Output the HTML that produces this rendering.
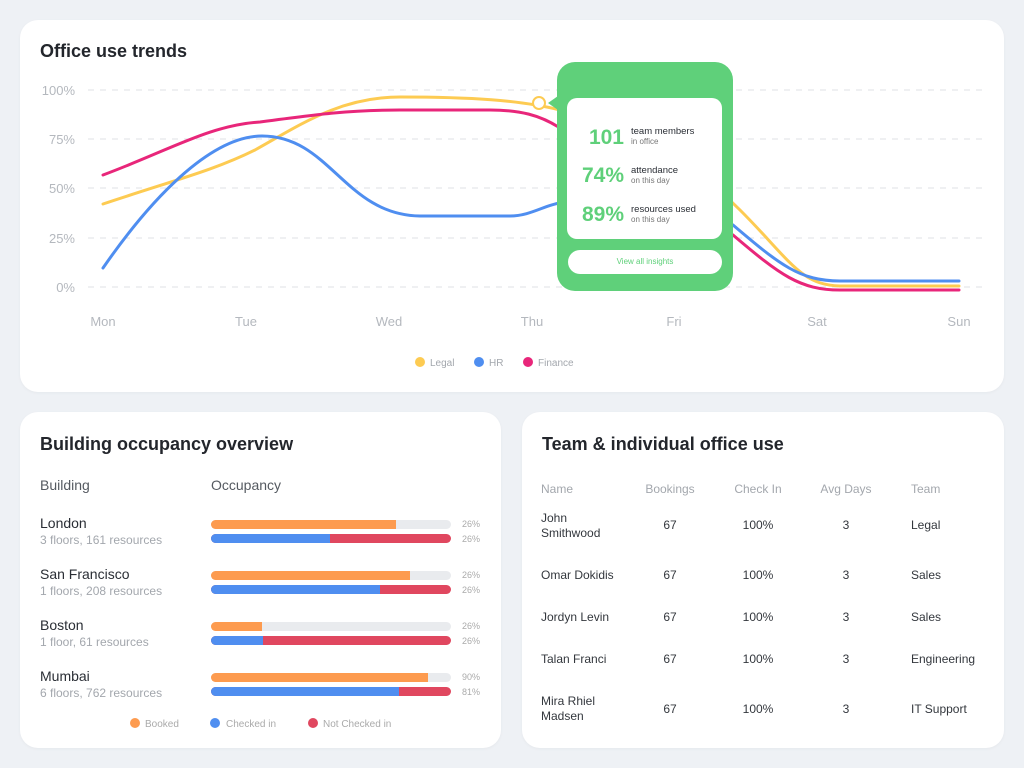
<!DOCTYPE html>
<html><head><meta charset="utf-8"><style>
body{margin:0;width:1024px;height:768px;background:#eef1f5;font-family:"Liberation Sans",sans-serif;position:relative;overflow:hidden;color:#2a2e35}
.card{position:absolute;background:#fff;border-radius:18px;box-shadow:0 1px 3px rgba(0,0,0,.04)}
.abs{position:absolute}
h2{position:absolute;margin:0;font-size:18px;font-weight:bold;color:#23262c}
.sub{color:#a3a7ad;font-size:12px}
.bar{position:absolute;height:9px;border-radius:5px;background:#e9ebee;overflow:hidden;left:211px;width:240px}
.bar div{position:absolute;top:0;height:9px}
.pct{position:absolute;left:462px;font-size:9px;color:#aaa}
.th{position:absolute;top:482px;font-size:12px;color:#a3a7ad}
.td{position:absolute;font-size:12px;color:#33373d;text-align:center}
</style></head><body>
<div class="card" style="left:20px;top:20px;width:984px;height:372px"></div>
<div class="card" style="left:20px;top:412px;width:481px;height:336px"></div>
<div class="card" style="left:522px;top:412px;width:482px;height:336px"></div>
<h2 style="left:40px;top:41px">Office use trends</h2>
<svg class="abs" style="left:0;top:0" width="1024" height="400">
<g stroke="#dfe2e6" stroke-dasharray="6 6" stroke-width="1">
<line x1="88" y1="90" x2="985" y2="90"/><line x1="88" y1="139" x2="985" y2="139"/><line x1="88" y1="188" x2="985" y2="188"/><line x1="88" y1="238" x2="985" y2="238"/><line x1="88" y1="287" x2="985" y2="287"/></g>
<g font-size="13" fill="#b4b8be" text-anchor="end"><text x="75" y="95">100%</text><text x="75" y="144">75%</text><text x="75" y="193">50%</text><text x="75" y="243">25%</text><text x="75" y="292">0%</text></g>
<g font-size="13" fill="#b4b8be" text-anchor="middle"><text x="103" y="326">Mon</text><text x="246" y="326">Tue</text><text x="389" y="326">Wed</text><text x="532" y="326">Thu</text><text x="674" y="326">Fri</text><text x="817" y="326">Sat</text><text x="959" y="326">Sun</text></g>
<g fill="none" stroke-width="3" stroke-linecap="round">
<path stroke="#fdcb52" d="M103 204 C175 180,215 170,255 150 C300 125,340 97,400 97 C470 97,520 100,560 110 C640 130,700 170,740 210 C790 260,800 285,840 286 L959 286"/>
<path stroke="#4f8ef0" d="M103 268 C150 200,210 136,262 136 C330 136,345 215,420 216 L510 216 C530 216,545 205,560 203 M733 225 C780 265,800 281,840 281 L959 281"/>
<path stroke="#e8267a" d="M103 175 C170 150,210 125,260 122 C320 114,350 110,400 110 L490 110 C520 110,540 115,560 128 M733 235 C780 275,800 290,840 290 L959 290"/>
</g>
<circle cx="539" cy="103" r="6" fill="#fff" stroke="#fdcb52" stroke-width="2"/>
<polygon points="548,103 558,96 558,110" fill="#5fd07a"/>
<g font-size="10" fill="#a3a7ad"><circle cx="420" cy="362" r="5" fill="#fdcb52"/><text x="430" y="366">Legal</text><circle cx="479" cy="362" r="5" fill="#4f8ef0"/><text x="489" y="366">HR</text><circle cx="528" cy="362" r="5" fill="#e8267a"/><text x="538" y="366">Finance</text></g>
</svg>
<div class="abs" style="left:557px;top:62px;width:176px;height:229px;background:#5fd07a;border-radius:18px"></div>
<div class="abs" style="left:567px;top:98px;width:155px;height:141px;background:#fff;border-radius:10px"></div>
<div class="abs" style="left:568px;top:250px;width:154px;height:24px;background:#fff;border-radius:12px;font-size:8px;color:#5fd07a;text-align:center;line-height:24px">View all insights</div>
<div class="abs" style="left:567px;top:126px;width:57px;text-align:right;font-size:21px;font-weight:bold;color:#5fd07a">101</div>
<div class="abs" style="left:567px;top:164px;width:57px;text-align:right;font-size:21px;font-weight:bold;color:#5fd07a">74%</div>
<div class="abs" style="left:567px;top:203px;width:57px;text-align:right;font-size:21px;font-weight:bold;color:#5fd07a">89%</div>
<div class="abs" style="left:631px;top:127px;font-size:9.5px;line-height:10px">team members<br><span style="font-size:8px;color:#777">in office</span></div>
<div class="abs" style="left:631px;top:166px;font-size:9.5px;line-height:10px">attendance<br><span style="font-size:8px;color:#777">on this day</span></div>
<div class="abs" style="left:631px;top:205px;font-size:9.5px;line-height:10px">resources used<br><span style="font-size:8px;color:#777">on this day</span></div>

<h2 style="left:40px;top:434px">Building occupancy overview</h2>
<div class="abs" style="left:40px;top:477px;font-size:14px;color:#555a61">Building</div>
<div class="abs" style="left:211px;top:477px;font-size:14px;color:#555a61">Occupancy</div>
<div class="abs" style="left:40px;top:515px;font-size:14px">London<br><span class="sub">3 floors, 161 resources</span></div>
<div class="abs" style="left:40px;top:566px;font-size:14px">San Francisco<br><span class="sub">1 floors, 208 resources</span></div>
<div class="abs" style="left:40px;top:617px;font-size:14px">Boston<br><span class="sub">1 floor, 61 resources</span></div>
<div class="abs" style="left:40px;top:668px;font-size:14px">Mumbai<br><span class="sub">6 floors, 762 resources</span></div>
<div class="bar" style="top:520px"><div style="left:0;width:185px;background:#fd9b4f"></div></div>
<div class="bar" style="top:534px;background:#e0475f"><div style="left:0;width:119px;background:#4f8ef0"></div></div>
<div class="bar" style="top:571px"><div style="left:0;width:199px;background:#fd9b4f"></div></div>
<div class="bar" style="top:585px;background:#e0475f"><div style="left:0;width:169px;background:#4f8ef0"></div></div>
<div class="bar" style="top:622px"><div style="left:0;width:51px;background:#fd9b4f"></div></div>
<div class="bar" style="top:636px;background:#e0475f"><div style="left:0;width:52px;background:#4f8ef0"></div></div>
<div class="bar" style="top:673px"><div style="left:0;width:217px;background:#fd9b4f"></div></div>
<div class="bar" style="top:687px;background:#e0475f"><div style="left:0;width:188px;background:#4f8ef0"></div></div>
<div class="pct" style="top:519px">26%</div><div class="pct" style="top:534px">26%</div>
<div class="pct" style="top:570px">26%</div><div class="pct" style="top:585px">26%</div>
<div class="pct" style="top:621px">26%</div><div class="pct" style="top:636px">26%</div>
<div class="pct" style="top:672px">90%</div><div class="pct" style="top:687px">81%</div>
<svg class="abs" style="left:0;top:700px" width="500" height="40"><g font-size="10" fill="#aaa"><circle cx="135" cy="23" r="5" fill="#fd9b4f"/><text x="145" y="27">Booked</text><circle cx="215" cy="23" r="5" fill="#4f8ef0"/><text x="226" y="27">Checked in</text><circle cx="313" cy="23" r="5" fill="#e0475f"/><text x="323" y="27">Not Checked in</text></g></svg>

<h2 style="left:542px;top:434px">Team &amp; individual office use</h2>
<div class="th" style="left:541px">Name</div>
<div class="th" style="left:620px;width:100px;text-align:center">Bookings</div>
<div class="th" style="left:708px;width:100px;text-align:center">Check In</div>
<div class="th" style="left:796px;width:100px;text-align:center">Avg Days</div>
<div class="th" style="left:911px">Team</div>
<div class="td" style="left:541px;top:511px;text-align:left;line-height:15px">John<br>Smithwood</div>
<div class="td" style="left:541px;top:568px;text-align:left">Omar Dokidis</div>
<div class="td" style="left:541px;top:610px;text-align:left">Jordyn Levin</div>
<div class="td" style="left:541px;top:652px;text-align:left">Talan Franci</div>
<div class="td" style="left:541px;top:694px;text-align:left;line-height:15px">Mira Rhiel<br>Madsen</div>
<div class="td" style="left:620px;width:100px;top:518px">67</div><div class="td" style="left:708px;width:100px;top:518px">100%</div><div class="td" style="left:796px;width:100px;top:518px">3</div><div class="td" style="left:911px;top:518px">Legal</div>
<div class="td" style="left:620px;width:100px;top:568px">67</div><div class="td" style="left:708px;width:100px;top:568px">100%</div><div class="td" style="left:796px;width:100px;top:568px">3</div><div class="td" style="left:911px;top:568px">Sales</div>
<div class="td" style="left:620px;width:100px;top:610px">67</div><div class="td" style="left:708px;width:100px;top:610px">100%</div><div class="td" style="left:796px;width:100px;top:610px">3</div><div class="td" style="left:911px;top:610px">Sales</div>
<div class="td" style="left:620px;width:100px;top:652px">67</div><div class="td" style="left:708px;width:100px;top:652px">100%</div><div class="td" style="left:796px;width:100px;top:652px">3</div><div class="td" style="left:911px;top:652px">Engineering</div>
<div class="td" style="left:620px;width:100px;top:702px">67</div><div class="td" style="left:708px;width:100px;top:702px">100%</div><div class="td" style="left:796px;width:100px;top:702px">3</div><div class="td" style="left:911px;top:702px">IT Support</div>
</body></html>
